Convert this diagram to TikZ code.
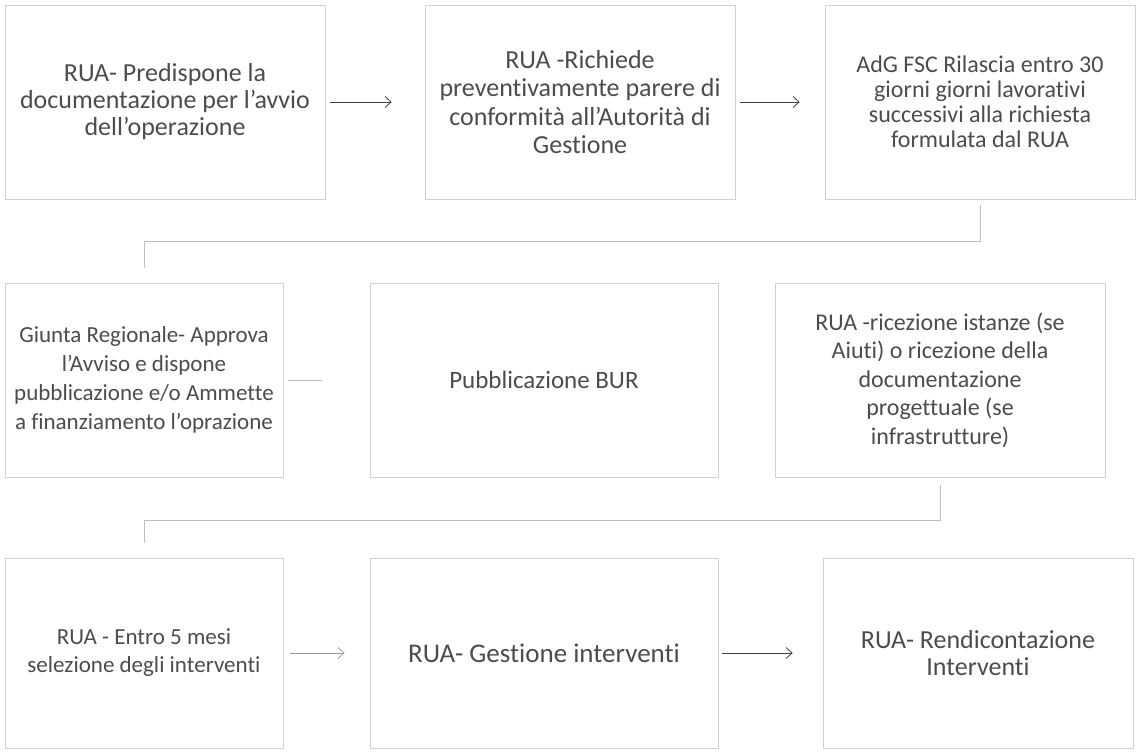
\documentclass[tikz,border=0pt]{standalone}
\usepackage{fontspec}
\setmainfont{Carlito}[Ligatures={TeX,NoCommon}]
\usetikzlibrary{arrows.meta}
\newcommand{\boxfont}[2]{\fontsize{#1}{#2}\selectfont}

\begin{document}
\begin{tikzpicture}[x=1pt,y=-1pt,
        stage/.style={draw=black!18,line width=0.8pt,align=center,inner sep=0pt,text=black!70,font=\boxfont{25}{28}},
        flow/.style={->,black!75,line width=0.8pt},
        link/.style={black!25,line width=0.8pt},
        >={Straight Barb[length=6pt,width=11pt]}]
        \useasboundingbox (0,0) rectangle (1137,752);

        % prima riga
        \node[stage,minimum width=320,minimum height=194,font=\boxfont{26}{27}](b1) at (165,102){RUA- Predispone la\\documentazione per l'avvio\\dell'operazione};
        \node[stage,minimum width=310,minimum height=194,font=\boxfont{26}{28.5}](b2) at (580,102){RUA -Richiede\\preventivamente parere di\\conformità all'Autorità di\\Gestione};
        \node[stage,minimum width=310,minimum height=194,font=\boxfont{24}{25}](b3) at (980,102){AdG FSC Rilascia entro 30\\giorni giorni lavorativi\\successivi alla richiesta\\formulata dal RUA};

        % seconda riga
        \node[stage,minimum width=278,minimum height=194,font=\boxfont{23}{29}](b4) at (144,380){Giunta Regionale- Approva\\l'Avviso e dispone\\pubblicazione e/o Ammette\\a finanziamento l'oprazione};
        \node[stage,minimum width=348,minimum height=194](b5) at (544,380){Pubblicazione BUR};
        \node[stage,minimum width=330,minimum height=194,font=\boxfont{24}{28.5}](b6) at (940,380){RUA -ricezione istanze (se\\Aiuti) o ricezione della\\documentazione\\progettuale (se\\infrastrutture)};

        % terza riga
        \node[stage,minimum width=278,minimum height=190,font=\boxfont{23}{28}](b7) at (144,653){RUA - Entro 5 mesi\\selezione degli interventi};
        \node[stage,minimum width=348,minimum height=190,font=\boxfont{27}{28}](b8) at (544,653){RUA- Gestione interventi};
        \node[stage,minimum width=310,minimum height=190,font=\boxfont{26}{27}](b9) at (978,653){RUA- Rendicontazione\\Interventi};

        \draw[flow,shorten <=5pt,shorten >=33pt](b1)--(b2);
        \draw[flow,shorten <=5pt,shorten >=25pt](b2)--(b3);
        \draw[link,shorten <=5pt,shorten >=48pt](b4)--(b5);
        \draw[flow,black!40,shorten <=7pt,shorten >=25pt](b7)--(b8);
        \draw[flow,shorten <=4pt,shorten >=30pt](b8)--(b9);

        \draw[link,shorten <=6pt,shorten >=15pt](b3.south)--++(0,42)-|(b4.north);
        \draw[link,shorten <=8pt,shorten >=15pt](b6.south)--++(0,43)-|(b7.north);
    \end{tikzpicture}
\end{document}
